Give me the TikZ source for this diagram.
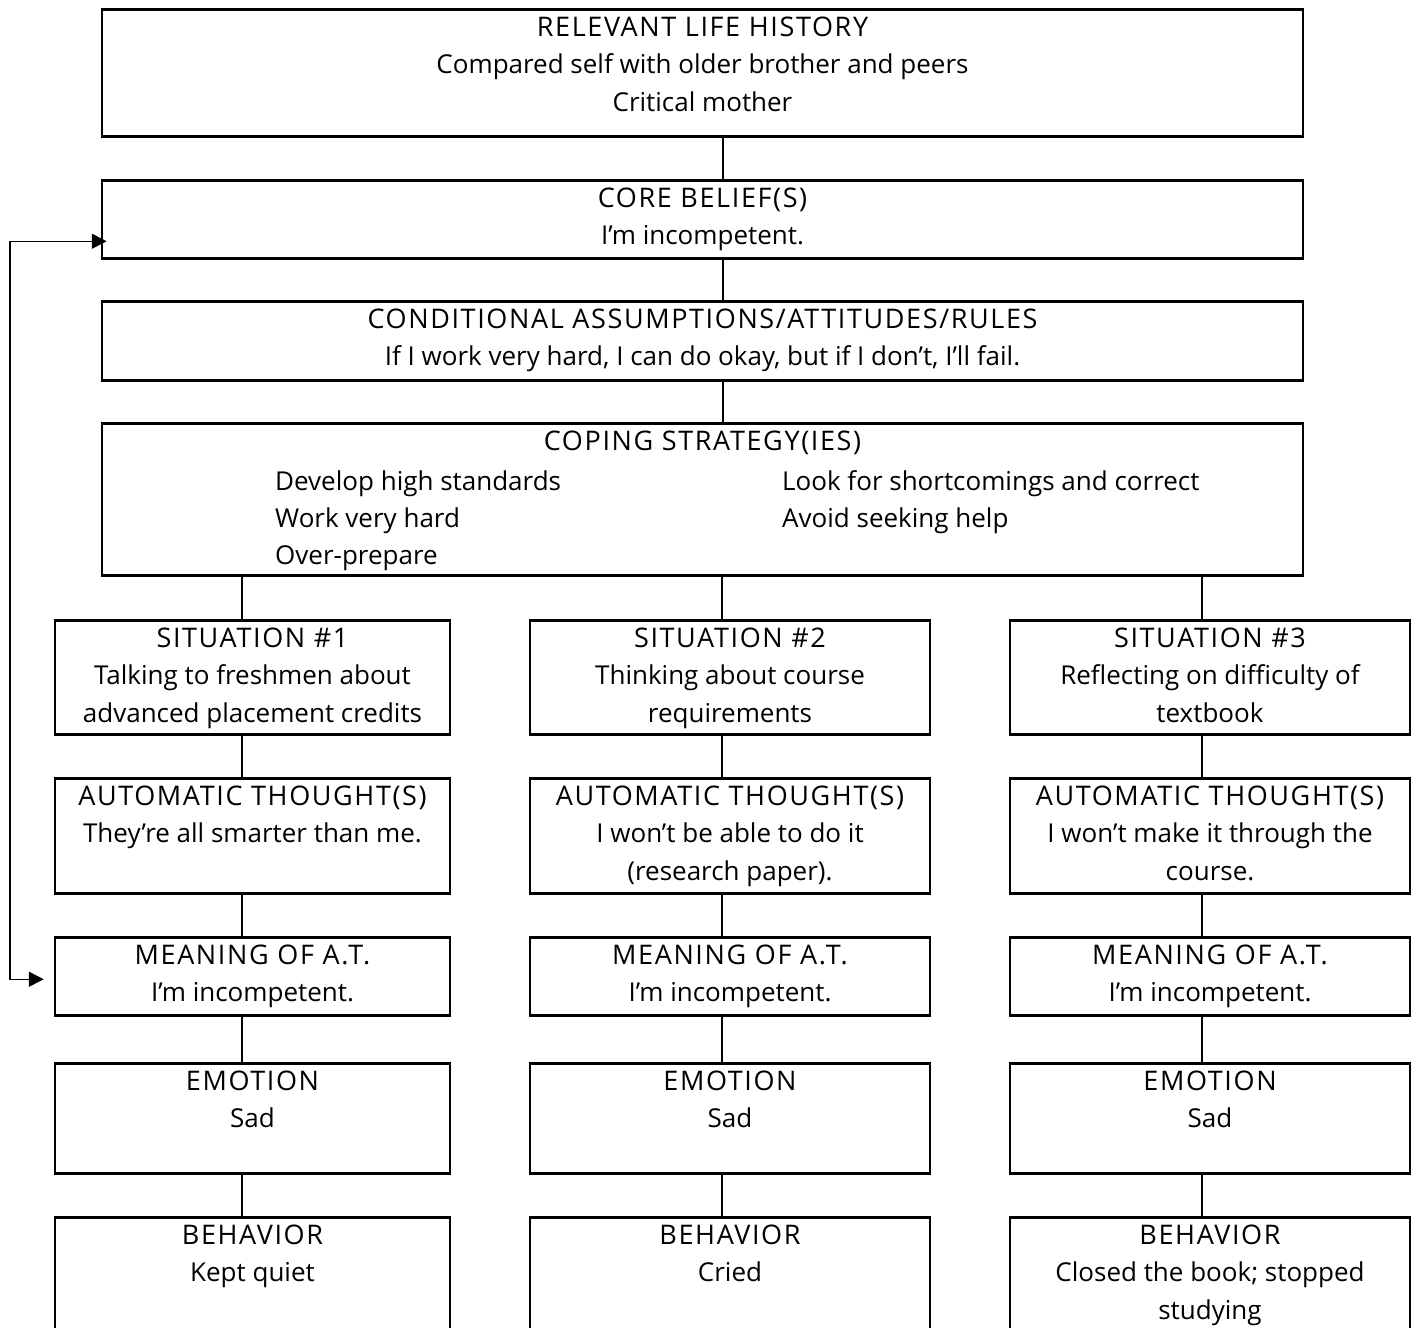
\documentclass[tikz,border=0pt]{standalone}
\usepackage{fontspec}
\setmainfont{Open Sans}
\newfontfamily\titlefont{Open Sans}[LetterSpace=6]
\newcommand\ttl{\titlefont\fontsize{27}{37.5}\selectfont}
\usetikzlibrary{arrows.meta,positioning,calc}

\begin{document}
\begin{tikzpicture}[x=1pt, y=-1pt,
  box/.style={draw, line width=2.5pt, inner sep=0pt, anchor=north},
  txt/.style={anchor=north, align=center, inner xsep=0pt, inner ysep=8.5pt,
    font=\fontsize{26}{37.5}\selectfont},
  item/.style={anchor=base west, inner sep=0pt, font=\fontsize{26}{37.5}\selectfont},
  link/.style={line width=2pt},
  fb/.style={line width=1.5pt, {Triangle[length=15pt,width=15pt]}-{Triangle[length=15pt,width=15pt]}}
]
  \useasboundingbox (0,0) rectangle (1417,1328);

  % upper chain
  \node[box, minimum width=1201pt, minimum height=127pt] (hist) at (702.5,8) {};
  \node[txt] (histtxt) at (hist.north) {{\ttl RELEVANT LIFE HISTORY}\\Compared self with older brother and peers\\Critical mother};
  \node[box, minimum width=1201pt, minimum height=78pt] (core) at (702.5,179) {};
  \node[txt] (coretxt) at (core.north) {{\ttl CORE BELIEF(S)}\\I’m incompetent.};
  \node[box, minimum width=1201pt, minimum height=79pt] (cond) at (702.5,300) {};
  \node[txt] (condtxt) at (cond.north) {{\ttl CONDITIONAL ASSUMPTIONS/ATTITUDES/RULES}\\If I work very hard, I can do okay, but if I don’t, I’ll fail.};
  \node[box, minimum width=1201pt, minimum height=152pt] (cope) at (702.5,422) {};
  \node[txt] (copetxt) at (cope.north) {\ttl COPING STRATEGY(IES)};
  \node[item] (s1) at (275,490) {Develop high standards};
  \node[item] (s2) at (275,527) {Work very hard};
  \node[item] (s3) at (275,564) {Over-prepare};
  \node[item] (s4) at (782,490) {Look for shortcomings and correct};
  \node[item] (s5) at (782,527) {Avoid seeking help};

  \coordinate (spine) at (723,0);
  \draw[link] (spine |- hist.south) -- (spine |- core.north);
  \draw[link] (spine |- core.south) -- (spine |- cond.north);
  \draw[link] (spine |- cond.south) -- (spine |- cope.north);

  % three columns
  \foreach \c/\cx/\w/\lx in {1/252.5/395/242, 2/730/400/722, 3/1210/400/1202} {
    \coordinate (col\c) at (\lx,0);
    \node[box, minimum width=\w pt, minimum height=114pt] (sit\c) at (\cx,619) {};
    \node[box, minimum width=\w pt, minimum height=115pt] (aut\c) at (\cx,777) {};
    \node[box, minimum width=\w pt, minimum height=78pt] (mean\c) at (\cx,936) {};
    \node[box, minimum width=\w pt, minimum height=110pt] (emo\c) at (\cx,1062) {};
    \node[box, minimum width=\w pt, minimum height=160pt] (beh\c) at (\cx,1216) {};
    \draw[link] (col\c |- cope.south) -- (col\c |- sit\c.north);
    \draw[link] (col\c |- sit\c.south) -- (col\c |- aut\c.north);
    \draw[link] (col\c |- aut\c.south) -- (col\c |- mean\c.north);
    \draw[link] (col\c |- mean\c.south) -- (col\c |- emo\c.north);
    \draw[link] (col\c |- emo\c.south) -- (col\c |- beh\c.north);
    \node[txt] (meantxt\c) at (mean\c.north) {{\ttl MEANING OF A.T.}\\I’m incompetent.};
  }

  \foreach \c/\t in {1/{{\ttl SITUATION \#1}\\Talking to freshmen about\\advanced placement credits},
                     2/{{\ttl SITUATION \#2}\\Thinking about course\\requirements},
                     3/{{\ttl SITUATION \#3}\\Reflecting on difficulty of\\textbook}}
    \node[txt] (sittxt\c) at (sit\c.north) {\t};

  \foreach \c/\t in {1/{{\ttl AUTOMATIC THOUGHT(S)}\\They’re all smarter than me.},
                     2/{{\ttl AUTOMATIC THOUGHT(S)}\\I won’t be able to do it\\(research paper).},
                     3/{{\ttl AUTOMATIC THOUGHT(S)}\\I won’t make it through the\\course.}}
    \node[txt] (auttxt\c) at (aut\c.north) {\t};

  \foreach \c/\t in {1/{{\ttl EMOTION}\\Sad}, 2/{{\ttl EMOTION}\\Sad}, 3/{{\ttl EMOTION}\\Sad}}
    \node[txt] (emotxt\c) at (emo\c.north) {\t};

  \foreach \c/\t in {1/{{\ttl BEHAVIOR}\\Kept quiet}, 2/{{\ttl BEHAVIOR}\\Cried},
                     3/{{\ttl BEHAVIOR}\\Closed the book; stopped\\studying}}
    \node[txt] (behtxt\c) at (beh\c.north) {\t};

  % feedback loop
  \coordinate (loop) at (10,0);
  \coordinate (fbtop) at ([shift={(6,22)}]core.west);
  \coordinate (fbbot) at ([shift={(-10,3)}]mean1.west);
  \draw[fb] (fbtop) -- (fbtop -| loop) -- (fbbot -| loop) -- (fbbot);
\end{tikzpicture}
\end{document}
